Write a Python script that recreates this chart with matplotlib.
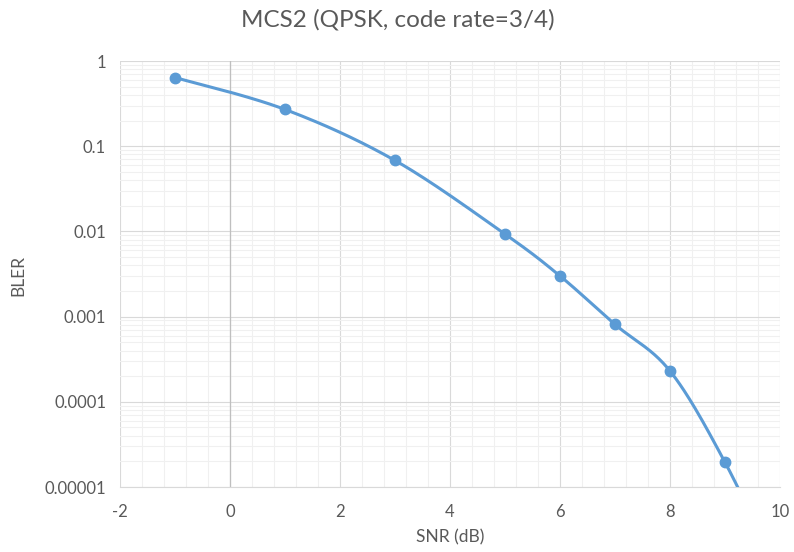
import numpy as np
import matplotlib
matplotlib.use('Agg')
import matplotlib.pyplot as plt
from matplotlib.ticker import LogLocator, MultipleLocator, FixedLocator

# 数据: SNR (dB) 与 BLER
snr = [-1, 1, 3, 5, 6, 7, 8, 9, 10]
bler = [0.64, 0.27, 0.068, 0.0093, 0.0030, 0.00081, 0.00023, 0.0000195, 0.0000009]

title = 'MCS2 (QPSK, code rate=3/4)'
x_label = 'SNR (dB)'
y_label = 'BLER'
y_ticks = [1, 0.1, 0.01, 0.001, 0.0001, 0.00001]
y_tick_labels = ['1', '0.1', '0.01', '0.001', '0.0001', '0.00001']

line_color = '#5b9bd5'
text_color = '#595959'


def smooth(xs, ys, n=40):
    # Excel 风格的平滑曲线 (Catmull-Rom / Bezier), 在 log 空间里做
    xs = np.asarray(xs, float)
    ly = np.log10(np.asarray(ys, float))
    px, py = [], []
    for i in range(len(xs) - 1):
        x0, y0 = xs[i], ly[i]
        x3, y3 = xs[i + 1], ly[i + 1]
        xa, ya = (xs[i - 1], ly[i - 1]) if i > 0 else (x0, y0)
        xb, yb = (xs[i + 2], ly[i + 2]) if i + 2 < len(xs) else (x3, y3)
        x1, y1 = x0 + (x3 - xa) / 6, y0 + (y3 - ya) / 6
        x2, y2 = x3 - (xb - x0) / 6, y3 - (yb - y0) / 6
        t = np.linspace(0, 1, n)
        b0, b1, b2, b3 = (1 - t) ** 3, 3 * t * (1 - t) ** 2, 3 * t ** 2 * (1 - t), t ** 3
        px.extend(b0 * x0 + b1 * x1 + b2 * x2 + b3 * x3)
        py.extend(b0 * y0 + b1 * y1 + b2 * y2 + b3 * y3)
    return np.array(px), 10 ** np.array(py)


plt.rcParams['font.family'] = ['Lato', 'DejaVu Sans']
fig = plt.figure(figsize=(7.94, 5.52), dpi=100)
ax = fig.add_axes([120 / 794, 1 - 487 / 552, 660 / 794, 426 / 552])

ax.set_yscale('log')
ax.set_xlim(-2, 10)
ax.set_ylim(1e-5, 1)

# 网格线
ax.xaxis.set_major_locator(MultipleLocator(2))
ax.xaxis.set_minor_locator(MultipleLocator(0.4))
ax.yaxis.set_major_locator(FixedLocator(y_ticks))
ax.yaxis.set_minor_locator(LogLocator(base=10, subs=np.arange(2, 10)))
ax.grid(which='minor', color='#f0f0f0', linewidth=0.8)
ax.grid(which='major', color='#d9d9d9', linewidth=0.8)
ax.set_axisbelow(True)
ax.axvline(0, color='#bfbfbf', linewidth=0.9, zorder=1)

for s in ['left', 'right', 'top']:
    ax.spines[s].set_visible(False)
ax.spines['bottom'].set_color('#d9d9d9')
ax.spines['bottom'].set_linewidth(0.8)

ax.tick_params(which='both', length=0, colors=text_color, labelsize=12)
ax.tick_params(axis='y', pad=10)
ax.tick_params(axis='x', pad=12)
ax.set_yticklabels(y_tick_labels)
ax.set_xticks([-2, 0, 2, 4, 6, 8, 10])
ax.set_xticklabels(['-2', '0', '2', '4', '6', '8', '10'])

# 曲线与数据点
sx, sy = smooth(snr, bler)
ax.plot(sx, sy, color=line_color, linewidth=2.2, zorder=3)
ax.plot(snr, bler, 'o', color=line_color, markersize=7.5, zorder=4)

fig.text(398 / 794, 1 - 20 / 552, title, ha='center', va='center', fontsize=17.5, color=text_color)
fig.text(450 / 794, 1 - 537 / 552, x_label, ha='center', va='center', fontsize=12.5, color=text_color)
fig.text(18 / 794, 1 - 275 / 552, y_label, ha='center', va='center', fontsize=12.5, color=text_color,
         rotation=90)

plt.savefig('out.png', dpi=100)
